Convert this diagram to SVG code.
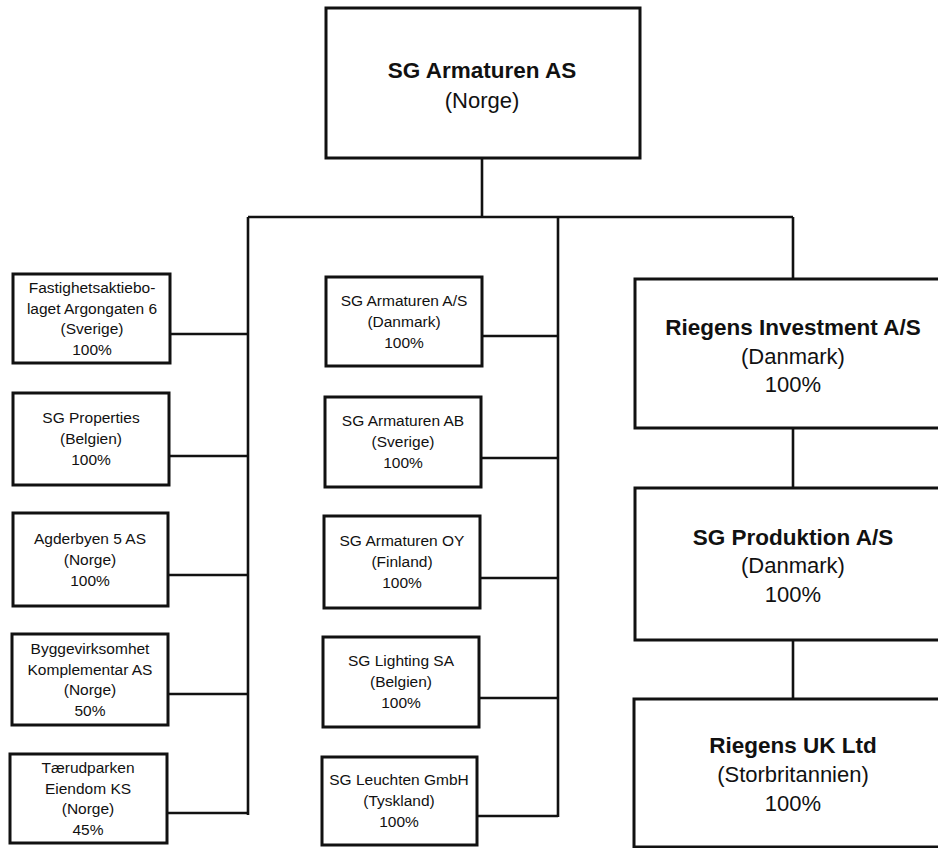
<svg xmlns="http://www.w3.org/2000/svg" width="938" height="848" viewBox="0 0 938 848">
<style>
.box{fill:#fff;stroke:#111;stroke-width:3}
.ln{fill:none;stroke:#111;stroke-width:2.6}
text{font-family:"Liberation Sans",Arial,sans-serif;fill:#111;text-anchor:middle}
.s{font-size:15.5px}
.b{font-size:22.5px;font-weight:bold}
.r{font-size:22px}
</style>
<rect width="938" height="848" fill="#fff"/>
<g id="connectors">
<path class="ln" d="M482 158V217M248 217H793M248 217V815M558 217V817M793 217V279M793 428V488M793 640V699"/>
<path class="ln" d="M170 334H248M169 456H248M168 575H248M168 694H248M167 813H248"/>
<path class="ln" d="M482 336H558M481 458H558M480 578H558M479 698H558M477 816H558"/>
</g>
<g id="n-top"><rect class="box" x="326" y="8" width="314" height="150"/>
<text class="b" x="482" y="78">SG Armaturen AS</text><text class="r" x="482" y="108">(Norge)</text></g>
<g id="n-l1"><rect class="box" x="13" y="274" width="157" height="89"/>
<text class="s" x="92" y="293">Fastighetsaktiebo-</text><text class="s" x="92" y="313.5">laget Argongaten 6</text><text class="s" x="92" y="334">(Sverige)</text><text class="s" x="92" y="355">100%</text></g>
<g id="n-l2"><rect class="box" x="13" y="393" width="156" height="92"/>
<text class="s" x="91" y="423">SG Properties</text><text class="s" x="91" y="444">(Belgien)</text><text class="s" x="91" y="465">100%</text></g>
<g id="n-l3"><rect class="box" x="13" y="513" width="155" height="93"/>
<text class="s" x="90" y="543.5">Agderbyen 5 AS</text><text class="s" x="90" y="564.5">(Norge)</text><text class="s" x="90" y="585.5">100%</text></g>
<g id="n-l4"><rect class="box" x="12" y="634" width="156" height="91"/>
<text class="s" x="90" y="654">Byggevirksomhet</text><text class="s" x="90" y="674.5">Komplementar AS</text><text class="s" x="90" y="695">(Norge)</text><text class="s" x="90" y="716">50%</text></g>
<g id="n-l5"><rect class="box" x="10" y="754" width="157" height="89"/>
<text class="s" x="88" y="773">Tærudparken</text><text class="s" x="88" y="793.5">Eiendom KS</text><text class="s" x="88" y="814">(Norge)</text><text class="s" x="88" y="835">45%</text></g>
<g id="n-m1"><rect class="box" x="326" y="277" width="156" height="89"/>
<text class="s" x="404" y="305.5">SG Armaturen A/S</text><text class="s" x="404" y="326.5">(Danmark)</text><text class="s" x="404" y="347.5">100%</text></g>
<g id="n-m2"><rect class="box" x="325" y="397" width="156" height="90"/>
<text class="s" x="403" y="426">SG Armaturen AB</text><text class="s" x="403" y="447">(Sverige)</text><text class="s" x="403" y="468">100%</text></g>
<g id="n-m3"><rect class="box" x="324" y="516" width="156" height="92"/>
<text class="s" x="402" y="546">SG Armaturen OY</text><text class="s" x="402" y="567">(Finland)</text><text class="s" x="402" y="588">100%</text></g>
<g id="n-m4"><rect class="box" x="323" y="637" width="156" height="90"/>
<text class="s" x="401" y="666">SG Lighting SA</text><text class="s" x="401" y="687">(Belgien)</text><text class="s" x="401" y="708">100%</text></g>
<g id="n-m5"><rect class="box" x="322" y="757" width="155" height="88"/>
<text class="s" x="399" y="785">SG Leuchten GmbH</text><text class="s" x="399" y="806">(Tyskland)</text><text class="s" x="399" y="827">100%</text></g>
<g id="n-r1"><rect class="box" x="635" y="279" width="310" height="149"/>
<text class="b" x="793" y="335">Riegens Investment A/S</text><text class="r" x="793" y="364">(Danmark)</text><text class="r" x="793" y="392">100%</text></g>
<g id="n-r2"><rect class="box" x="635" y="488" width="310" height="152"/>
<text class="b" x="793" y="545">SG Produktion A/S</text><text class="r" x="793" y="573">(Danmark)</text><text class="r" x="793" y="602">100%</text></g>
<g id="n-r3"><rect class="box" x="634" y="699" width="311" height="148"/>
<text class="b" x="793" y="753">Riegens UK Ltd</text><text class="r" x="793" y="782">(Storbritannien)</text><text class="r" x="793" y="811">100%</text></g>
</svg>
